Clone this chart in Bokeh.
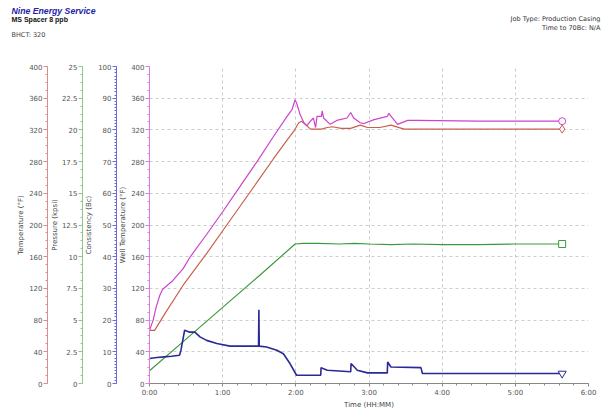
from bokeh.plotting import figure
from bokeh.layouts import column
from bokeh.models import Range1d, LinearAxis, SingleIntervalTicker, CustomJSTickFormatter
from bokeh.embed import file_html
from bokeh.resources import INLINE
from bokeh.core.properties import value

# ---------------- data (time in hours) ----------------
temp_t = [0.0, 0.07, 0.23, 0.46, 0.78, 1.01, 1.24, 1.47, 1.69, 1.88, 1.97, 2.04, 2.08, 2.13,
          2.2, 2.35, 2.43, 2.5, 2.62, 2.75, 2.88, 2.98, 3.15, 3.3, 3.48, 4.0, 5.0, 5.64]
temp_v = [67, 67, 91, 124, 164, 194, 224, 254, 283, 307, 318, 329, 331, 327,
          321, 321, 323, 324, 322, 322, 326, 323, 323, 326, 321, 321, 321, 321]

well_t = [0.0, 0.05, 0.09, 0.14, 0.18, 0.32, 0.46, 0.55, 0.78, 1.01, 1.24, 1.47, 1.69, 1.88,
          1.95, 1.99, 2.01, 2.06, 2.11, 2.15, 2.2, 2.24, 2.27, 2.29, 2.35, 2.36, 2.38, 2.47,
          2.56, 2.70, 2.75, 2.79, 2.88, 2.93, 3.07, 3.25, 3.27, 3.39, 3.53, 3.66, 4.5, 5.64]
well_v = [67, 80, 96, 111, 119, 130, 145, 159, 188, 218, 249, 280, 311, 337,
          346, 358, 354, 339, 329, 325, 331, 335, 323, 337, 337, 344, 335, 327,
          332, 335, 342, 335, 329, 328, 333, 337, 341, 327, 332, 332, 331, 331]

pres_t = [0.0, 0.5, 1.0, 1.5, 1.99, 2.1, 2.3, 2.6, 2.8, 3.0, 3.3, 3.6, 4.0, 4.5, 5.0, 5.64]
pres_v = [1.0, 3.5, 6.0, 8.5, 11.0, 11.05, 11.05, 11.0, 11.05, 11.0, 10.95, 11.0, 10.95,
          10.95, 11.0, 11.0]

cons_t = [0.0, 0.1, 0.2, 0.3, 0.41, 0.43, 0.48, 0.55, 0.62, 0.69, 0.78, 0.92, 1.1, 1.3,
          1.49, 1.495, 1.5, 1.6, 1.74, 1.83, 1.92, 2.01, 2.34, 2.345, 2.43, 2.75, 2.755,
          2.84, 2.98, 3.25, 3.255, 3.30, 3.71, 3.73, 5.64]
cons_v = [7.9, 8.2, 8.4, 8.6, 8.9, 10.5, 16.8, 16.2, 16.2, 14.7, 13.6, 12.6, 11.8, 11.8,
          11.8, 23.3, 11.8, 11.5, 10.5, 9.4, 6.3, 2.6, 2.6, 5.0, 4.2, 3.7, 6.3,
          4.2, 3.35, 3.35, 6.8, 5.2, 5.0, 3.15, 3.15]

company = "Nine Energy Service"
test_name = "MS Spacer 8 ppb"
bhct = "BHCT: 320"
job_type = "Job Type: Production Casing"
time_to = "Time to 70Bc: N/A"

# ---------------- colours ----------------
C_TEMP, C_WELL, C_PRES, C_CONS = "#c8604a", "#cc44cc", "#3c9a3c", "#2a2a96"
A_TEMP, A_WELL, A_PRES, A_CONS = "#e08a8a", "#e07ae0", "#8cc88c", "#6a6ad8"
FONT = "DejaVu Sans"
TICK_COLOR = "#555555"

W, H = 602, 411
HEAD = 60
FL, FR, FT, FB = 149, 14, 6, 25

# ---------------- header figure ----------------
hdr = figure(width=W, height=HEAD, output_backend="svg", toolbar_location=None,
             x_range=Range1d(0, W), y_range=Range1d(HEAD, 0),
             x_axis_location=None, y_axis_location=None,
             min_border=0, min_border_left=0, min_border_right=0,
             min_border_top=0, min_border_bottom=0,
             outline_line_color=None, frame_align=False)
hdr.xgrid.visible = False
hdr.ygrid.visible = False

def htext(txt, x, y, size, color, font=FONT, style="normal", align="left"):
    hdr.text(x=[x], y=[y], text=[txt], text_font=value(font), text_font_size=size,
             text_color=color, text_font_style=style, text_align=align,
             text_baseline="middle")

htext(company, 11, 10, "8.7px", "#2323a8", font="Liberation Sans", style="bold italic")
htext(test_name, 11, 19, "7px", "#111111", font="Liberation Sans", style="bold")
htext(bhct, 11, 34, "6.5px", "#444444")
htext(job_type, 600, 18, "6.5px", "#333333", align="right")
htext(time_to, 600, 27, "6.5px", "#333333", align="right")

# ---------------- main figure ----------------
p = figure(width=W, height=H - HEAD, output_backend="svg", toolbar_location=None,
           x_range=Range1d(0, 6), y_range=Range1d(0, 400),
           min_border_left=FL, min_border_right=FR, min_border_top=FT, min_border_bottom=FB,
           outline_line_color=None, background_fill_color="white", frame_align=False)

p.extra_y_ranges = {"temp": Range1d(0, 400), "pres": Range1d(0, 25), "cons": Range1d(0, 100)}

p.xgrid.ticker = SingleIntervalTicker(interval=1)
p.ygrid.ticker = SingleIntervalTicker(interval=40)
for g in (p.xgrid, p.ygrid):
    g.grid_line_color = "#cccccc"
    g.grid_line_dash = "3 3"

def style_axis(ax, color, label, label_standoff):
    ax.axis_label = label
    ax.axis_line_color = color
    ax.major_tick_line_color = color
    ax.minor_tick_line_color = color
    ax.major_tick_in = 0
    ax.major_tick_out = 4
    ax.minor_tick_in = 0
    ax.minor_tick_out = 2
    ax.major_label_text_font = FONT
    ax.major_label_text_font_size = "7px"
    ax.major_label_text_color = TICK_COLOR
    ax.axis_label_text_font = FONT
    ax.axis_label_text_font_size = "7px"
    ax.axis_label_text_font_style = "normal"
    ax.axis_label_text_color = "#444444"
    ax.major_label_standoff = 1
    ax.axis_label_standoff = label_standoff

ya = p.yaxis[0]
ya.ticker = SingleIntervalTicker(interval=40, num_minor_ticks=4)
style_axis(ya, A_WELL, "Well Temperature (°F)", 1)

ax_cons = LinearAxis(y_range_name="cons", ticker=SingleIntervalTicker(interval=10, num_minor_ticks=10))
style_axis(ax_cons, A_CONS, "Consistency (Bc)", 2)
p.add_layout(ax_cons, "left")

ax_pres = LinearAxis(y_range_name="pres", ticker=SingleIntervalTicker(interval=2.5, num_minor_ticks=4))
style_axis(ax_pres, A_PRES, "Pressure (kpsi)", 0)
p.add_layout(ax_pres, "left")

ax_temp = LinearAxis(y_range_name="temp", ticker=SingleIntervalTicker(interval=40, num_minor_ticks=4))
style_axis(ax_temp, A_TEMP, "Temperature (°F)", 1)
p.add_layout(ax_temp, "left")

xa = p.xaxis[0]
xa.ticker = SingleIntervalTicker(interval=1, num_minor_ticks=5)
style_axis(xa, "#888888", "Time (HH:MM)", 1)
xa.major_tick_out = 3
xa.major_label_standoff = 2
xa.formatter = CustomJSTickFormatter(code="""
const h = Math.floor(tick + 1e-9);
const m = Math.round((tick - h) * 60);
return h + ':' + (m < 10 ? '0' : '') + m;
""")

p.line(temp_t, temp_v, color=C_TEMP, line_width=1.2, y_range_name="temp")
p.line(well_t, well_v, color=C_WELL, line_width=1.2)
p.line(pres_t, pres_v, color=C_PRES, line_width=1.2, y_range_name="pres")
p.line(cons_t, cons_v, color=C_CONS, line_width=1.6, y_range_name="cons")

p.scatter([temp_t[-1]], [temp_v[-1]], marker="diamond", size=8, fill_color="white",
          line_color=C_TEMP, y_range_name="temp")
p.scatter([well_t[-1]], [well_v[-1]], marker="circle", size=7, fill_color="white",
          line_color=C_WELL)
p.scatter([pres_t[-1]], [pres_v[-1]], marker="square", size=7, fill_color="white",
          line_color=C_PRES, y_range_name="pres")
p.scatter([cons_t[-1]], [cons_v[-1]], marker="inverted_triangle", size=8, fill_color="white",
          line_color=C_CONS, y_range_name="cons")

layout = column(hdr, p, spacing=0)
open("out.html", "w").write(file_html(layout, INLINE))
